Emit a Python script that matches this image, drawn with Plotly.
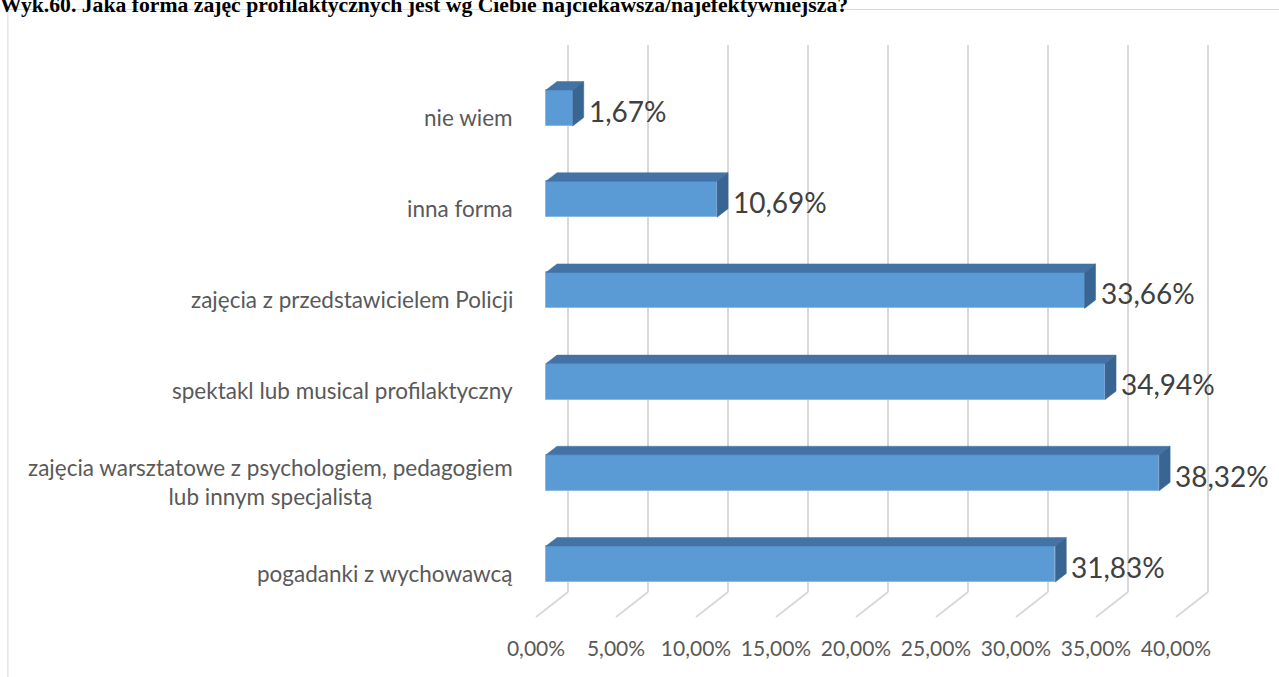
import plotly.graph_objects as go

# ---- data ----
categories = [
    "pogadanki z wychowawcą",
    "zajęcia warsztatowe z psychologiem, pedagogiem<br>lub innym specjalistą",
    "spektakl lub musical profilaktyczny",
    "zajęcia z przedstawicielem Policji",
    "inna forma",
    "nie wiem",
]
values = [31.83, 38.32, 34.94, 33.66, 10.69, 1.67]
tick_values = [0, 5, 10, 15, 20, 25, 30, 35, 40]
tick_labels = [f"{t:.2f}%".replace(".", ",") for t in tick_values]
value_labels = [f"{v:.2f}%".replace(".", ",") for v in values]
title_text = "Wyk.60. Jaka forma zajęć profilaktycznych jest wg Ciebie najciekawsza/najefektywniejsza?"

# ---- style / geometry (oblique 3D look) ----
FRONT = "#5B9BD5"
TOP = "#4472A4"
SIDE = "#396592"
GRID = "#D9D9D9"
TXT = "#595959"
FONT = "Lato"

BAR_H = 0.395          # bar thickness (category units)
BX, BY = 0.6875, 0.093  # bar depth offset (value %, category units)
WALL_X = 1.375          # back wall offset from bar front plane
FLOOR_X = -0.625        # front floor edge offset
Y_TOP, Y_BOT, Y_FRONT = 5.69, -0.307, -0.581

pos = list(range(len(categories)))

fig = go.Figure()

# bar front faces
fig.add_trace(go.Bar(x=values, y=pos, base=0, orientation="h", width=BAR_H,
                     marker=dict(color=FRONT, line=dict(color="#8DB8E2", width=1)),
                     showlegend=False, hoverinfo="skip"))

# top and side faces
for v, c in zip(values, pos):
    t = c + BAR_H / 2
    b = c - BAR_H / 2
    fig.add_trace(go.Scatter(
        x=[0, v, v + BX, BX, 0], y=[t, t, t + BY, t + BY, t],
        mode="lines", fill="toself", fillcolor=TOP,
        line=dict(color=TOP, width=0.5), hoverinfo="skip", showlegend=False))
    fig.add_trace(go.Scatter(
        x=[v, v, v + BX, v + BX, v], y=[b, t, t + BY, b + BY, b],
        mode="lines", fill="toself", fillcolor=SIDE,
        line=dict(color=SIDE, width=0.5), hoverinfo="skip", showlegend=False))

# gridlines (back wall vertical + floor diagonal), behind the bars
shapes = []
for t in tick_values:
    shapes.append(dict(type="line", xref="x", yref="y",
                       x0=t + WALL_X, x1=t + WALL_X, y0=Y_TOP, y1=Y_BOT,
                       line=dict(color=GRID, width=2), layer="below"))
    shapes.append(dict(type="line", xref="x", yref="y",
                       x0=t + WALL_X, x1=t + FLOOR_X, y0=Y_BOT, y1=Y_FRONT,
                       line=dict(color=GRID, width=2), layer="below"))
# outer chart frame
shapes.append(dict(type="rect", xref="paper", yref="paper",
                   x0=-0.692, x1=1.1, y0=-0.2, y1=1.0514,
                   line=dict(color="#D9D9D9", width=1), layer="below"))

annotations = []
# data labels
for v, c, lab in zip(values, pos, value_labels):
    annotations.append(dict(x=v + BX + 0.2, y=c - 0.03, xref="x", yref="y",
                            text=lab, showarrow=False, xanchor="left",
                            yanchor="middle",
                            font=dict(family=FONT, size=28, color="#404040")))
# category labels
for c, lab in zip(pos, categories):
    annotations.append(dict(x=-0.007, y=c - 0.1, xref="paper", yref="y",
                            text=lab, showarrow=False, xanchor="right",
                            yanchor="middle", align="center",
                            font=dict(family=FONT, size=22.5, color=TXT)))

fig.update_layout(
    width=1279, height=677,
    margin=dict(l=520, r=19, t=40, b=43),
    paper_bgcolor="white", plot_bgcolor="white",
    title=dict(text="<b>" + title_text + "</b>", x=0, xanchor="left",
               xref="container", y=0.993, yref="container", yanchor="middle",
               pad=dict(l=0, t=0, b=0, r=0),
               font=dict(family="Liberation Serif", size=21.7, color="black")),
    xaxis=dict(range=[-1.625, 44.625], tickvals=[t + FLOOR_X for t in tick_values],
               ticktext=tick_labels, showgrid=False, zeroline=False,
               showline=False, ticks="",
               tickfont=dict(family=FONT, size=21, color=TXT)),
    yaxis=dict(range=[-0.7675, 5.7456], showgrid=False, zeroline=False,
               showline=False, showticklabels=False, ticks=""),
    annotations=annotations,
    shapes=shapes,
    bargap=0,
)

fig.write_html("out.html",
               config={"displayModeBar": False},
               post_script="document.body.style.margin='0';document.body.style.overflow='hidden';")
